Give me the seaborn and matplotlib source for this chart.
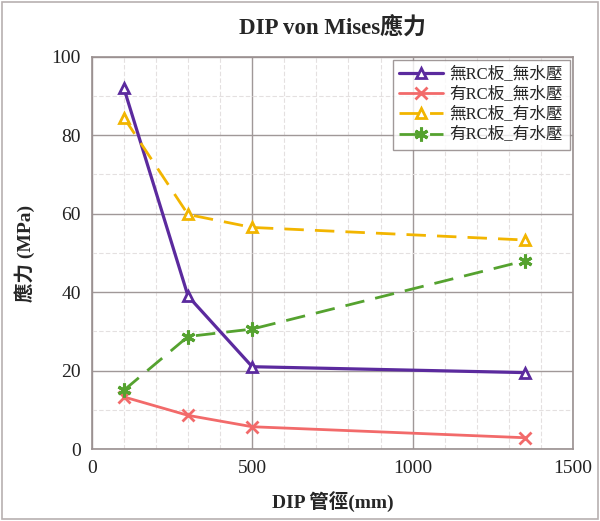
import matplotlib
matplotlib.use("Agg")
import matplotlib.pyplot as plt
from matplotlib.ticker import MultipleLocator
import seaborn as sns
import pandas as pd

# pipe diameters (mm)
diameters = [100, 300, 500, 1350]

# von Mises stress (MPa) per case
no_rc_no_water = [92.0, 39.0, 21.0, 19.5]
rc_no_water = [13.3, 8.6, 5.7, 2.9]
no_rc_water = [84.5, 59.8, 56.5, 53.3]
rc_water = [15.0, 28.7, 30.6, 48.0]

series_names = ["無RC板_無水壓", "有RC板_無水壓", "無RC板_有水壓", "有RC板_有水壓"]
series_values = [no_rc_no_water, rc_no_water, no_rc_water, rc_water]

sns.set_theme(style="white")
plt.rcParams["font.family"] = ["Liberation Serif", "Noto Sans CJK TC", "DejaVu Sans"]

PURPLE, RED, ORANGE, GREEN = "#5B2A9E", "#F26A6A", "#F2B500", "#55A22F"
styles = [
    dict(color=PURPLE, marker="^", markerfacecolor="white", markeredgecolor=PURPLE,
         markersize=7.5, markeredgewidth=2, linewidth=2.3, linestyle="-"),
    dict(color=RED, marker="x", markerfacecolor=RED, markeredgecolor=RED,
         markersize=8, markeredgewidth=2, linewidth=2.0, linestyle="-"),
    dict(color=ORANGE, marker="^", markerfacecolor="white", markeredgecolor=ORANGE,
         markersize=7.5, markeredgewidth=2, linewidth=2.0, linestyle=(0, (7, 4))),
    dict(color=GREEN, marker=(6, 2, 0), markerfacecolor=GREEN, markeredgecolor=GREEN,
         markersize=10, markeredgewidth=2.2, linewidth=2.0, linestyle=(0, (7, 4))),
]

fig = plt.figure(figsize=(6.0, 5.21), dpi=100)
fig.patch.set_facecolor("white")
ax = fig.add_axes([0.153, 0.138, 0.802, 0.753])

for name, vals, st in zip(series_names, series_values, styles):
    df = pd.DataFrame({"diameter": diameters, "stress": vals})
    sns.lineplot(data=df, x="diameter", y="stress", ax=ax, label=name,
                 sort=False, errorbar=None, **st)

ax.set_xlim(0, 1500)
ax.set_ylim(0, 100)
ax.xaxis.set_major_locator(MultipleLocator(500))
ax.yaxis.set_major_locator(MultipleLocator(20))
ax.xaxis.set_minor_locator(MultipleLocator(100))
ax.yaxis.set_minor_locator(MultipleLocator(10))
ax.grid(which="major", color="#A09898", linewidth=1.0)
ax.grid(which="minor", color="#E4E0E0", linewidth=0.8, linestyle=(0, (4, 2)))
ax.set_axisbelow(True)
for sp in ax.spines.values():
    sp.set_color("#9A9090")
    sp.set_linewidth(1.2)

ax.tick_params(axis="both", which="both", length=0, labelsize=14, pad=8, labelcolor="#222222")
ax.set_xlabel("DIP 管徑(mm)", fontsize=14, fontweight="bold", labelpad=10)
ax.set_ylabel("應力 (MPa)", fontsize=14, fontweight="bold", labelpad=12)
ax.set_title("DIP von Mises應力", fontsize=16.5, fontweight="bold", pad=16)

leg = ax.legend(loc="upper right", fontsize=12, frameon=True, fancybox=False,
                borderaxespad=0.2, handlelength=2.6, labelspacing=0.25,
                borderpad=0.4, handletextpad=0.4)
leg.get_frame().set_edgecolor("#8A8080")
leg.get_frame().set_linewidth(1.0)

# outer chart-area border
fig.patches.append(plt.Rectangle((0.004, 0.004), 0.992, 0.992, transform=fig.transFigure,
                                 fill=False, edgecolor="#B8B0B0", linewidth=1.2))

fig.savefig("out.png", dpi=100, facecolor="white")
